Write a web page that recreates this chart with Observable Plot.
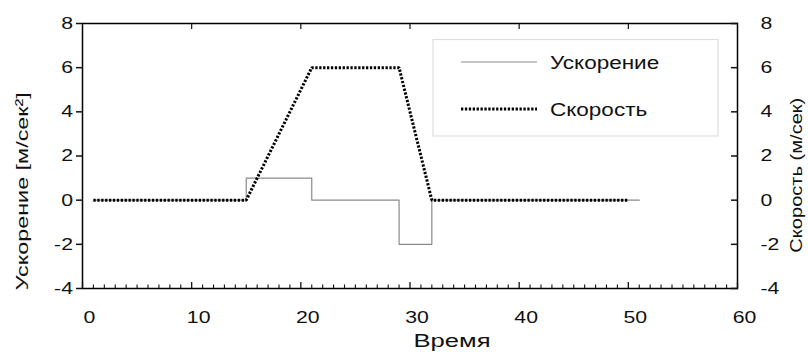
<!DOCTYPE html>
<html><head><meta charset="utf-8">
<script src="https://cdn.jsdelivr.net/npm/d3@7"></script>
<script src="https://cdn.jsdelivr.net/npm/@observablehq/plot@0.6"></script>
<style>body{margin:0;background:#fff} svg{font-family:"Liberation Sans",Arial,sans-serif}</style>
</head><body><div id="chart"></div>
<script>
// Data
const accelT = [1, 15, 21, 29, 32, 51];
const accelV = [0, 1, 0, -2, 0, 0];
const speedT = [1, 15, 20, 21, 29, 32, 50];
const speedV = [0, 0, 5, 6, 6, 0, 0];
const xTickLabels = [0, 10, 20, 30, 40, 50, 60];
const xMinorTicks = [1,2,3,4,5,6,7,8,9,11,12,13,14,15,16,17,18,19,21,22,23,24,25,26,27,28,29,31,32,33,34,35,36,37,38,39,41,42,43,44,45,46,47,48,49,51,52,53,54,55,56,57,58,59];
const yTickLabels = [-4, -2, 0, 2, 4, 6, 8];
const seriesNames = ["Ускорение", "Скорость"];
const xTitle = "Время";
const yLeftTitle = "Ускорение [м/сек²]";
const yRightTitle = "Скорость (м/сек)";

const accel = accelT.map((t, i) => ({t, v: accelV[i]}));
const speed = speedT.map((t, i) => ({t, v: speedV[i]}));
const fmt = d => String(d);
const dots = "2.3,1.6";

const plot = Plot.plot({
  width: 808, height: 352,
  marginLeft: 82, marginRight: 71, marginTop: 23, marginBottom: 64,
  style: "font-family:'Liberation Sans',Arial,sans-serif;font-size:17px;color:#111;background:#fff;overflow:visible",
  x: {domain: [0, 60]},
  y: {domain: [-4, 8]},
  marks: [
    Plot.line(accel, {x: "t", y: "v", curve: "step-after", stroke: "#8a8a8a", strokeWidth: 1.2}),
    Plot.line(speed, {x: "t", y: "v", stroke: "#000", strokeWidth: 3, strokeDasharray: dots, strokeLinecap: "butt", strokeLinejoin: "miter"}),
    Plot.frame({stroke: "#000", strokeWidth: 1.5}),
    Plot.axisY(yTickLabels, {anchor: "left", tickSize: 6, tickPadding: 3.5, tickFormat: fmt, strokeWidth: 1.5, label: null}),
    Plot.axisY(yTickLabels, {anchor: "right", tickSize: -7, tickPadding: 30, tickFormat: fmt, strokeWidth: 1.5, label: null, textAnchor: "start"}),
    Plot.axisX(xTickLabels, {anchor: "bottom", tickSize: 0, tickPadding: 22, dx: 7, tickFormat: fmt, label: null}),
    Plot.axisX(xTickLabels, {anchor: "bottom", tickSize: -6, fill: "none", strokeWidth: 1.3, label: null}),
    Plot.axisX(xMinorTicks, {anchor: "bottom", tickSize: -3.5, fill: "none", strokeWidth: 1.1, label: null}),
    Plot.axisX(xTickLabels.slice(1, -1), {anchor: "top", tickSize: -5, fill: "none", strokeWidth: 1.2, label: null}),
    Plot.text([xTitle], {frameAnchor: "bottom", dx: 42, dy: 58.2, fontSize: 18, fill: "#111"}),
    Plot.text([yLeftTitle], {frameAnchor: "left", dx: -59.5, dy: 35.2, rotate: -90, fontSize: 17, fill: "#111"}),
    Plot.text([yRightTitle], {frameAnchor: "right", dx: 59, dy: 19.2, rotate: -90, fontSize: 17, fill: "#111"})
  ]
});

document.getElementById("chart").append(plot);

// Legend
const svg = d3.select(plot);
const lg = svg.append("g");
lg.append("rect").attr("x", 433).attr("y", 39.5).attr("width", 285).attr("height", 96.5)
  .attr("fill", "#fff").attr("stroke", "#dedede").attr("stroke-width", 1.2);
lg.append("line").attr("x1", 461).attr("x2", 537).attr("y1", 62).attr("y2", 62)
  .attr("stroke", "#8a8a8a").attr("stroke-width", 1.2);
lg.append("line").attr("x1", 461).attr("x2", 537).attr("y1", 109).attr("y2", 109)
  .attr("stroke", "#000").attr("stroke-width", 3).attr("stroke-dasharray", dots);
lg.selectAll("text.lgt").data(seriesNames).join("text").attr("class", "lgt")
  .attr("x", 550).attr("y", (d, i) => i === 0 ? 68.5 : 115.5).attr("text-anchor", "start")
  .attr("font-size", 18).attr("fill", "#111").text(d => d);

// Horizontal stretch of text, as in the reference
plot.querySelectorAll("text").forEach(t => {
  const tr = t.getAttribute("transform") || "";
  const c = t.textContent;
  if (c === yLeftTitle || c === yRightTitle) {
    const L = c === yLeftTitle ? 198 : 155;
    t.setAttribute("text-anchor", "start");
    t.setAttribute("x", -L / 2);
    t.setAttribute("textLength", L);
  }
  else if (c === xTitle) t.setAttribute("textLength", 77);
  else if (!/rotate/.test(tr)) t.setAttribute("textLength", t.getComputedTextLength() * 1.25);
  t.setAttribute("lengthAdjust", "spacingAndGlyphs");
});
</script>
</body></html>
